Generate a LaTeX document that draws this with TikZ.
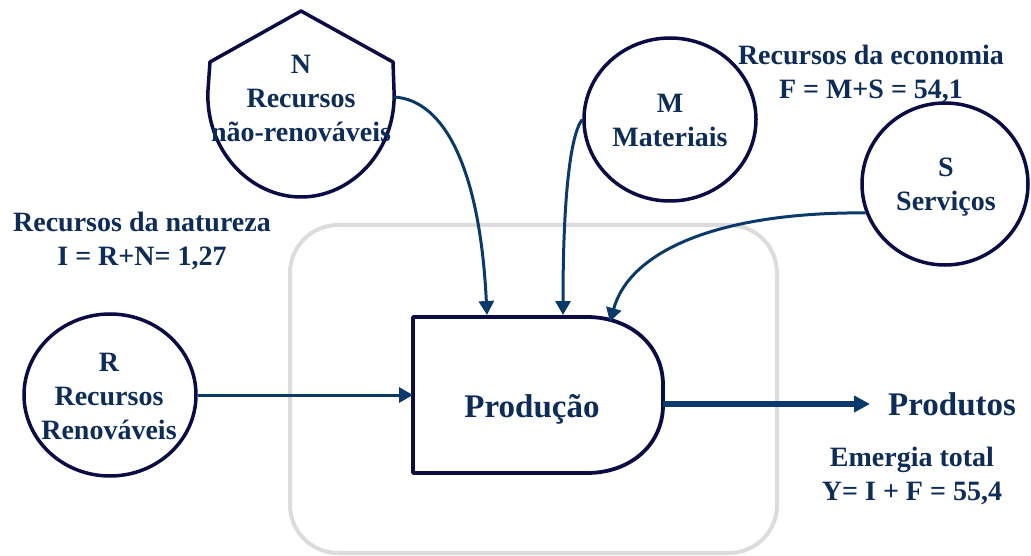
\documentclass[tikz,border=0pt]{standalone}
\usepackage{fontspec}
\setmainfont{Liberation Serif}
\usetikzlibrary{arrows.meta,shapes.geometric}
\definecolor{ink}{HTML}{0E2C58}
\definecolor{flow}{HTML}{0B3A6A}
\definecolor{edge}{HTML}{0B0B45}
\definecolor{frame}{HTML}{DCDCDC}
\begin{document}
\begin{tikzpicture}[x=1pt,y=-1pt,
  lbl/.style={font=\fontsize{28}{34}\selectfont\bfseries, text=ink, align=center, inner sep=0pt},
  big/.style={font=\fontsize{33}{38}\selectfont\bfseries, text=ink, inner sep=0pt},
  source/.style={ellipse, draw=edge, line width=3.5pt, inner sep=0pt},
  flowline/.style={draw=flow, line width=3pt, -{Triangle[length=14pt,width=15pt]}},
  outflow/.style={draw=flow, line width=5.5pt, -{Triangle[length=16pt,width=16pt]}},
]
\useasboundingbox (0,0) rectangle (1031,556);

% system boundary
\draw[frame, line width=4pt, rounded corners=48pt] (290,225) rectangle (777,553);

% production unit
\draw[edge, line width=3.8pt, line join=round, fill=white]
  (413,317) -- (587,317) .. controls (630,317) and (663,345) .. (663,385)
  -- (663,405) .. controls (663,445) and (630,473) .. (587,473) -- (413,473) -- cycle;
\node[big, anchor=base] (P) at (532,417) {Produção};
\coordinate (Pl) at (413,395);
\coordinate (Pn) at (487,315);
\coordinate (Pm) at (563,315);
\coordinate (Ps) at (610,322);
\coordinate (Pout) at (663,404);

% non-renewable source
\draw[edge, line width=3.5pt, line join=round]
  (394,90) -- (393,62) -- (301,11) -- (210,62) -- (208,90)
  .. controls (205,150) and (250,197) .. (301,197)
  .. controls (352,197) and (397,150) .. (394,90);
\node[lbl] (Nt) at (301,98) {N\\Recursos\\não-renováveis};
\coordinate (Nout) at (394,97);

% circular sources
\node[source, minimum width=172pt, minimum height=162pt] (R) at (110,395) {};
\node[lbl] (Rt) at (109,396) {R\\Recursos\\Renováveis};
\node[source, minimum width=172pt, minimum height=163pt] (M) at (670,119.5) {};
\node[lbl] (Mt) at (670,120.5) {M\\Materiais};
\node[source, minimum width=166pt, minimum height=162pt] (S) at (945,184) {};
\node[lbl] (St) at (946,187.5) {S\\Serviços};

% group labels
\node[lbl] (nat) at (142,241) {Recursos da natureza\\I = R+N= 1,27};
\node[lbl] (eco) at (871,73.5) {Recursos da economia\\F = M+S = 54,1};
\node[lbl] (tot) at (912,476) {Emergia total\\Y= I + F = 55,4};

% output
\node[big, anchor=base west] (out) at (888,415) {Produtos};
\coordinate (outtip) at (870,404);

% flows
\draw[flowline] (R.east) -- (Pl);
\draw[outflow] (Pout) -- (outtip);
\draw[flowline] (Nout) .. controls (445,100) and (480,170) .. (Pn);
\draw[flowline] (M.west) .. controls (570,135) and (563,200) .. (Pm);
\draw[flowline] (S.200) .. controls (720,212) and (630,250) .. (Ps);
\end{tikzpicture}
\end{document}
